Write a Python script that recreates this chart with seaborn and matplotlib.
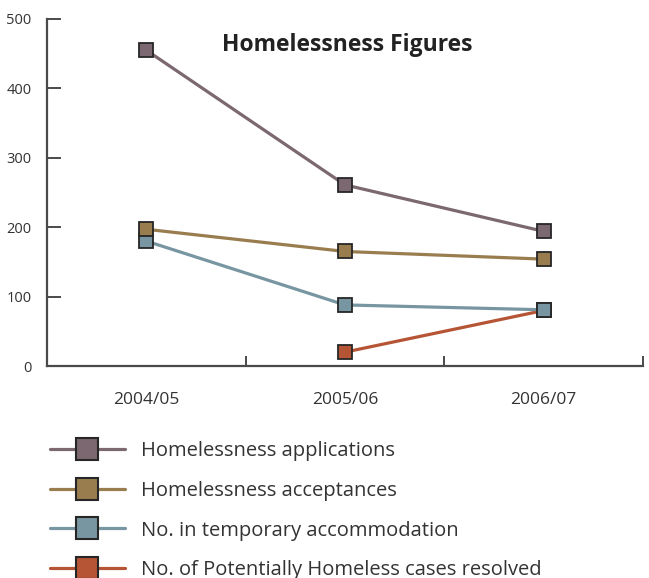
import matplotlib
matplotlib.use("Agg")
import matplotlib.pyplot as plt
import numpy as np
import pandas as pd
import seaborn as sns

years = ["2004/05", "2005/06", "2006/07"]
series_names = [
    "Homelessness applications",
    "Homelessness acceptances",
    "No. in temporary accommodation",
    "No. of Potentially Homeless cases resolved",
]
applications = [455, 261, 194]
acceptances = [197, 165, 154]
temporary = [180, 88, 81]
resolved = [np.nan, 20, 80]
colors = ["#7b6870", "#9a7d4f", "#7896a2", "#b65535"]
y_ticks = [0, 100, 200, 300, 400, 500]

rows = []
for name, vals in zip(series_names, [applications, acceptances, temporary, resolved]):
    for i, v in enumerate(vals):
        rows.append({"series": name, "pos": i, "value": v})
df = pd.DataFrame(rows)

sns.set_theme(style="white")
plt.rcParams["font.family"] = ["Open Sans", "DejaVu Sans"]

fig = plt.figure(figsize=(6.49, 5.78), dpi=100)
ax = fig.add_axes([47 / 649, 1 - 366 / 578, (643 - 47) / 649, (366 - 19) / 578])

# draw the last series first so earlier ones sit on top where they meet
draw_order = series_names[::-1]
sns.lineplot(
    data=df, x="pos", y="value", hue="series", hue_order=draw_order,
    palette=colors[::-1], marker="s", markersize=9.5, markeredgecolor="#262626",
    markeredgewidth=1.3, linewidth=2.3, legend=False, ax=ax,
)

ax.set_xlim(-0.5, 2.5)
ax.set_ylim(0, 500)
ax.set_xlabel("")
ax.set_ylabel("")
for s in ["top", "right"]:
    ax.spines[s].set_visible(False)
for s in ["left", "bottom"]:
    ax.spines[s].set_color("#4a4a4a")
    ax.spines[s].set_linewidth(1.6)

ax.set_yticks(y_ticks)
ax.set_yticklabels([str(t) for t in y_ticks])
ax.tick_params(axis="y", direction="in", length=10, width=1.4, color="#4a4a4a",
               labelsize=10.5, labelcolor="#333333", pad=11, left=True)

# boundaries between year bands get the tick marks, labels sit in the middle
ax.set_xticks([-0.5, 0.5, 1.5, 2.5])
ax.set_xticklabels([])
ax.set_xticks([0, 1, 2], minor=True)
ax.set_xticklabels(years, minor=True)
ax.tick_params(axis="x", which="major", direction="in", length=7, width=1.4,
               color="#4a4a4a", bottom=True)
ax.tick_params(axis="x", which="minor", length=0, labelsize=12.5,
               labelcolor="#333333", pad=19)

ax.text(0.503, 0.925, "Homelessness Figures", transform=ax.transAxes,
        ha="center", va="center", fontsize=16.5, fontweight="bold", color="#222222")

handles = [
    plt.Line2D([], [], color=c, linewidth=2.3, marker="s", markersize=16,
               markerfacecolor=c, markeredgecolor="#262626", markeredgewidth=1.5)
    for c in colors
]
fig.legend(handles, series_names, loc="upper left", bbox_to_anchor=(42 / 649, 1 - 433 / 578),
           frameon=False, fontsize=14.5, handlelength=3.7, handletextpad=0.8,
           labelspacing=0.98, labelcolor="#333333", borderaxespad=0)

fig.savefig("out.png", dpi=100)
